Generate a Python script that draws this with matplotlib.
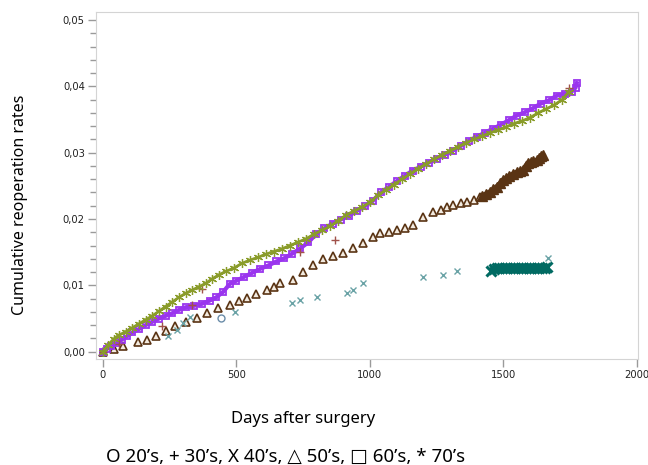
import matplotlib
matplotlib.use("Agg")
import matplotlib.pyplot as plt
from matplotlib.ticker import MultipleLocator, FuncFormatter

# 20's (circles)
x20 = [0, 444]
y20 = [0.0000, 0.0051]

# 30's (plus)
x30 = [0, 60, 221, 333, 370, 738, 869, 1745]
y30 = [0.0000, 0.0011, 0.0038, 0.0070, 0.0094, 0.0151, 0.0169, 0.0397]

# 40's (x)
x40 = [0, 244, 277, 300, 326, 494, 708, 738, 802, 913, 937, 975, 1199, 1273, 1325, 1667]
y40 = [0.0000, 0.0023, 0.0033, 0.0044, 0.0053, 0.0060, 0.0074, 0.0078, 0.0083,
       0.0089, 0.0093, 0.0104, 0.0113, 0.0116, 0.0121, 0.0141]
# 40's plateau (dense)
x40_band = [1455, 1465, 1475, 1485, 1495, 1505, 1515, 1525, 1535, 1545, 1555,
            1565, 1575, 1585, 1595, 1605, 1615, 1625, 1635, 1645, 1655, 1665]
y40_band = [0.0122, 0.0125, 0.0126, 0.0126, 0.0126, 0.0126, 0.0126, 0.0126, 0.0126,
            0.0126, 0.0126, 0.0126, 0.0126, 0.0126, 0.0126, 0.0126, 0.0126, 0.0126,
            0.0126, 0.0126, 0.0126, 0.0127]

# 50's (triangles)
x50 = [0, 40, 75, 131, 164, 200, 235, 270, 310, 351, 390, 431, 476, 510, 538, 575,
       613, 640, 663, 712, 750, 787, 824, 860, 899, 935, 974, 1011, 1037, 1070, 1101,
       1130, 1161, 1199, 1236, 1265, 1288, 1311, 1340, 1363, 1390, 1412]
y50 = [0.0000, 0.0004, 0.0008, 0.0014, 0.0018, 0.0024, 0.0031, 0.0038, 0.0045, 0.0051,
       0.0058, 0.0066, 0.0071, 0.0076, 0.0081, 0.0087, 0.0093, 0.0098, 0.0104, 0.0108,
       0.0120, 0.0131, 0.0139, 0.0144, 0.0149, 0.0156, 0.0164, 0.0173, 0.0179, 0.0181,
       0.0184, 0.0187, 0.0191, 0.0203, 0.0211, 0.0214, 0.0218, 0.0221, 0.0224, 0.0226,
       0.0229, 0.0233]
x50_dense = [1420, 1435, 1449, 1462, 1475, 1488, 1498, 1510, 1522, 1535, 1550,
             1562, 1573, 1583, 1592, 1602, 1612, 1625, 1635, 1642, 1648]
y50_dense = [0.0235, 0.0238, 0.0241, 0.0245, 0.0249, 0.0254, 0.0259, 0.0262, 0.0265,
             0.0268, 0.0271, 0.0272, 0.0274, 0.0280, 0.0285, 0.0286, 0.0287, 0.0289,
             0.0292, 0.0295, 0.0297]

# 60's (squares)
x60 = [0, 15, 30, 50, 70, 90, 110, 135, 160, 185, 210, 235, 260, 285, 310, 340, 370,
       400, 425, 450, 475, 500, 530, 560, 590, 620, 650, 680, 710, 740, 770, 800, 830,
       860, 890, 920, 950, 980, 1010, 1040, 1070, 1100, 1130, 1160, 1190, 1220, 1250,
       1280, 1310, 1340, 1370, 1400, 1430, 1460, 1490, 1520, 1550, 1580, 1610, 1640,
       1670, 1700, 1730, 1755, 1770, 1775]
y60 = [0.0000, 0.0004, 0.0008, 0.0013, 0.0018, 0.0023, 0.0029, 0.0034, 0.0040, 0.0045,
       0.0050, 0.0054, 0.0058, 0.0063, 0.0067, 0.0069, 0.0072, 0.0077, 0.0082, 0.0090,
       0.0102, 0.0107, 0.0113, 0.0119, 0.0125, 0.0130, 0.0136, 0.0141, 0.0148, 0.0156,
       0.0165, 0.0178, 0.0186, 0.0193, 0.0199, 0.0205, 0.0212, 0.0219, 0.0227, 0.0240,
       0.0248, 0.0257, 0.0265, 0.0273, 0.0279, 0.0285, 0.0291, 0.0297, 0.0303, 0.0310,
       0.0318, 0.0324, 0.0330, 0.0336, 0.0342, 0.0349, 0.0356, 0.0361, 0.0367, 0.0374,
       0.0379, 0.0386, 0.0389, 0.0392, 0.0398, 0.0405]

# 70's (asterisks)
x70 = [0, 20, 40, 60, 85, 110, 135, 160, 185, 210, 235, 260, 285, 310, 335, 360, 385,
       410, 435, 460, 490, 520, 550, 580, 610, 640, 670, 700, 730, 760, 790, 820, 850,
       880, 910, 940, 970, 1000, 1030, 1060, 1090, 1120, 1150, 1180, 1210, 1240, 1270,
       1300, 1330, 1360, 1390, 1420, 1450, 1480, 1510, 1540, 1570, 1600, 1630, 1660,
       1690, 1720, 1745]
y70 = [0.0000, 0.0010, 0.0019, 0.0025, 0.0030, 0.0036, 0.0042, 0.0048, 0.0054, 0.0061,
       0.0068, 0.0075, 0.0082, 0.0088, 0.0093, 0.0098, 0.0103, 0.0110, 0.0116, 0.0121,
       0.0126, 0.0133, 0.0138, 0.0142, 0.0147, 0.0151, 0.0155, 0.0160, 0.0165, 0.0170,
       0.0177, 0.0183, 0.0189, 0.0197, 0.0206, 0.0212, 0.0218, 0.0225, 0.0236, 0.0244,
       0.0252, 0.0260, 0.0268, 0.0276, 0.0283, 0.0290, 0.0297, 0.0303, 0.0309, 0.0315,
       0.0320, 0.0325, 0.0330, 0.0334, 0.0339, 0.0344, 0.0348, 0.0353, 0.0360, 0.0366,
       0.0372, 0.0380, 0.0392]

xticks = [0, 500, 1000, 1500, 2000]
yticks = [0.00, 0.01, 0.02, 0.03, 0.04, 0.05]

label_font = ["Noto Sans", "DejaVu Sans"]

fig = plt.figure(figsize=(6.48, 4.65), dpi=100)
ax = fig.add_axes([0.148, 0.228, 0.837, 0.746])

purple = "#9a35ee"
olive = "#8a9c2a"
brown = "#5a3414"
teal_l = "#6aa3a6"
teal_d = "#006a62"

# triangles
ax.plot(x50, y50, ls="none", marker="^", ms=5.5, mfc="#f3ebe0", mec=brown, mew=1.2)
ax.plot(x50_dense, y50_dense, color=brown, lw=3.5, zorder=2)
ax.plot(x50_dense, y50_dense, ls="none", marker="^", ms=6.5, mfc=brown, mec=brown, zorder=2)

# x markers
ax.plot(x40, y40, ls="none", marker="x", ms=5, mec=teal_l, mew=1.0)
ax.plot(x40_band, y40_band, color=teal_d, lw=5, solid_capstyle="butt")
ax.plot(x40_band, y40_band, ls="none", marker="x", ms=7, mec=teal_d, mew=2.2)

# circles
ax.plot(x20, y20, ls="none", marker="o", ms=5, mfc="none", mec="#6a8ca8", mew=1.0)

# squares
ax.plot(x60, y60, color=purple, lw=3, zorder=3)
ax.plot(x60, y60, ls="none", marker="s", ms=5, mfc="none", mec=purple, mew=1.3, zorder=3)

# plus
ax.plot(x30, y30, ls="none", marker="+", ms=6, mec="#a0524a", mew=1.0, zorder=4)

# asterisks
ax.plot(x70, y70, color=olive, lw=2, zorder=5)
ax.plot(x70, y70, ls="none", marker=(6, 2, 0), ms=6.5, mec=olive, mew=0.9, zorder=5)

ax.set_xlim(-26, 2005)
ax.set_ylim(-0.0011, 0.0512)
ax.set_xticks(xticks)
ax.set_yticks(yticks)
ax.yaxis.set_minor_locator(MultipleLocator(0.002))
ax.yaxis.set_major_formatter(FuncFormatter(lambda v, p: f"{v:.2f}".replace(".", ",")))

for s in ax.spines.values():
    s.set_color("#d4d4d4")
ax.tick_params(axis="both", which="major", length=6, color="#9a9a9a", width=1,
               labelsize=8, labelcolor="#222222", pad=2)
ax.tick_params(axis="y", which="minor", length=4, color="#9a9a9a", width=1)
for lab in ax.get_xticklabels() + ax.get_yticklabels():
    lab.set_family(["DejaVu Sans"])
    lab.set_stretch("condensed")

fig.text(0.031, 0.56, "Cumulative reoperation rates", rotation=90, ha="center", va="center",
         fontsize=11.5, fontweight="medium", family=label_font)
fig.text(0.468, 0.10, "Days after surgery", ha="center", va="center",
         fontsize=12, fontweight="semibold", family=label_font)
fig.text(0.44, 0.018, "O 20’s, + 30’s, X 40’s, △ 50’s, □ 60’s, * 70’s", ha="center",
         va="center", fontsize=13.5, fontweight="semibold",
         family=["Noto Sans", "DejaVu Sans"])

fig.savefig("out.png", dpi=100)
